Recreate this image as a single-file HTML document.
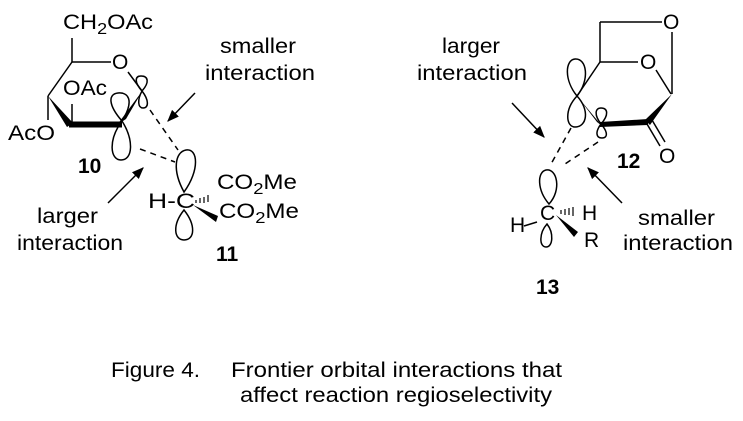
<!DOCTYPE html>
<html><head><style>
html,body{margin:0;padding:0;background:#fff;}
svg{display:block;}
text{font-family:"Liberation Sans",Arial,sans-serif;fill:#000;}
</style></head><body>
<svg width="743" height="421" viewBox="0 0 743 421" xmlns="http://www.w3.org/2000/svg">
<defs>
<marker id="ah" viewBox="0 0 10 10" refX="9" refY="5" markerWidth="8" markerHeight="8" orient="auto"><path d="M0,1 L10,5 L0,9 Z" fill="#000"/></marker>
</defs>
<g fill="none" stroke="#000" stroke-width="1.5">
<line x1="72" y1="38" x2="72" y2="62"/>
<line x1="72" y1="62" x2="111" y2="62"/>
<line x1="72" y1="62" x2="48" y2="96"/>
<line x1="48" y1="96" x2="48" y2="120"/>
<line x1="72" y1="124" x2="72" y2="104"/>
<line x1="128" y1="72" x2="142" y2="91"/>
<path d="M122,121 C108,105 108,94 118,93 C128,92 135,100 122,121 Z"/>
<path d="M122,121 C108,140 110,160 121,160 C133,160 134,140 122,121 Z"/>
<path d="M142,91 C134,82 135,76 141,76 C148,76 150,82 142,91 Z"/>
<path d="M142,91 C137,100 138,108 143,108 C149,108 149,100 142,91 Z"/>
<line x1="150" y1="110" x2="178" y2="150" stroke-dasharray="6,5"/>
<line x1="140" y1="149" x2="175" y2="162" stroke-dasharray="6,5"/>
<path d="M184,192 C172,170 175,152 186,150 C198,148 200,170 184,192 Z"/>
<path d="M184,210 C172,225 174,240 184,240 C195,240 196,225 184,210 Z"/>
<line x1="195" y1="93" x2="168" y2="121" marker-end="url(#ah)"/>
<line x1="108" y1="203" x2="143" y2="168" marker-end="url(#ah)"/>
<line x1="600" y1="22" x2="662" y2="22"/>
<line x1="600" y1="22" x2="600" y2="62"/>
<line x1="600" y1="62" x2="638" y2="62"/>
<line x1="656" y1="70" x2="671" y2="94"/>
<line x1="672" y1="32" x2="672" y2="94"/>
<line x1="600" y1="62" x2="577" y2="96"/>
<line x1="647" y1="124" x2="660" y2="146"/>
<line x1="652" y1="120" x2="665" y2="142"/>
<path d="M577,96 C564,80 565,60 575,59 C587,58 590,80 577,96 Z"/>
<path d="M577,96 C564,110 566,127 575,127 C587,127 590,110 577,96 Z"/>
<path d="M601,124 C594,115 595,108 601,108 C608,108 609,115 601,124 Z"/>
<path d="M601,124 C595,132 596,138 602,138 C608,138 608,132 601,124 Z"/>
<line x1="571" y1="128" x2="551" y2="164" stroke-dasharray="6,5"/>
<line x1="598" y1="142" x2="565" y2="164" stroke-dasharray="6,5"/>
<path d="M549,204 C537,190 537,172 546,170 C557,168 562,190 549,204 Z"/>
<path d="M547,224 C539,233 539,247 546,247 C553,247 554,233 547,224 Z"/>
<line x1="524" y1="226" x2="537" y2="222"/>
<line x1="512" y1="103" x2="544" y2="137" marker-end="url(#ah)"/>
<line x1="622" y1="203" x2="588" y2="168" marker-end="url(#ah)"/>
</g>
<g fill="#000" stroke="none">
<path d="M48,96 L67,127 L73,123 Z"/>
<rect x="69" y="121.5" width="53" height="6"/>
<polygon points="117,125 126,119 143,90"/>
<polygon points="672,94 645,120 650,125"/>
<polygon points="600,122 648,119 648,125 600,127"/>
<polygon points="577,96 597,122 602,126"/>
<polygon points="193,205 218,216 216,222"/>
<polygon points="556,215 578,232 574,237"/>
</g>
<g stroke="#000" stroke-width="1.2">
<line x1="196" y1="200" x2="196" y2="203"/>
<line x1="200" y1="198" x2="200" y2="203"/>
<line x1="204" y1="197" x2="204" y2="203"/>
<line x1="208" y1="195" x2="208" y2="202"/>
<line x1="561" y1="210" x2="561" y2="214"/>
<line x1="565" y1="209" x2="565" y2="215"/>
<line x1="569" y1="208" x2="569" y2="215"/>
<line x1="573" y1="207" x2="573" y2="216"/>
</g>
<g font-size="21" lengthAdjust="spacingAndGlyphs">
<text x="63" y="29" textLength="90" lengthAdjust="spacingAndGlyphs">CH<tspan font-size="16" dy="5">2</tspan><tspan dy="-5">OAc</tspan></text>
<text x="112" y="69">O</text>
<text x="63" y="95" textLength="44" lengthAdjust="spacingAndGlyphs">OAc</text>
<text x="8" y="140" textLength="47" lengthAdjust="spacingAndGlyphs">AcO</text>
<text x="220" y="53" textLength="76" lengthAdjust="spacingAndGlyphs">smaller</text>
<text x="205" y="80" textLength="110" lengthAdjust="spacingAndGlyphs">interaction</text>
<text x="148" y="208" textLength="47" lengthAdjust="spacingAndGlyphs">H-C</text>
<text x="217" y="189" textLength="80" lengthAdjust="spacingAndGlyphs">CO<tspan font-size="16" dy="5">2</tspan><tspan dy="-5">Me</tspan></text>
<text x="219" y="218" textLength="80" lengthAdjust="spacingAndGlyphs">CO<tspan font-size="16" dy="5">2</tspan><tspan dy="-5">Me</tspan></text>
<text x="37" y="223" textLength="61" lengthAdjust="spacingAndGlyphs">larger</text>
<text x="17" y="250" textLength="106" lengthAdjust="spacingAndGlyphs">interaction</text>
<text x="663" y="29">O</text>
<text x="640" y="69">O</text>
<text x="659" y="163">O</text>
<text x="442" y="53" textLength="58" lengthAdjust="spacingAndGlyphs">larger</text>
<text x="417" y="80" textLength="110" lengthAdjust="spacingAndGlyphs">interaction</text>
<text x="540" y="220">C</text>
<text x="582" y="220">H</text>
<text x="510" y="232">H</text>
<text x="584" y="247">R</text>
<text x="638" y="225" textLength="77" lengthAdjust="spacingAndGlyphs">smaller</text>
<text x="623" y="250" textLength="110" lengthAdjust="spacingAndGlyphs">interaction</text>
<text x="111" y="377" textLength="89" lengthAdjust="spacingAndGlyphs">Figure 4.</text>
<text x="231" y="377" textLength="331" lengthAdjust="spacingAndGlyphs">Frontier orbital interactions that</text>
<text x="240" y="402" textLength="312" lengthAdjust="spacingAndGlyphs">affect reaction regioselectivity</text>
</g>
<g font-size="21" font-weight="bold">
<text x="78" y="173">10</text>
<text x="216" y="261">11</text>
<text x="617" y="168">12</text>
<text x="536" y="294">13</text>
</g>
</svg>
</body></html>
